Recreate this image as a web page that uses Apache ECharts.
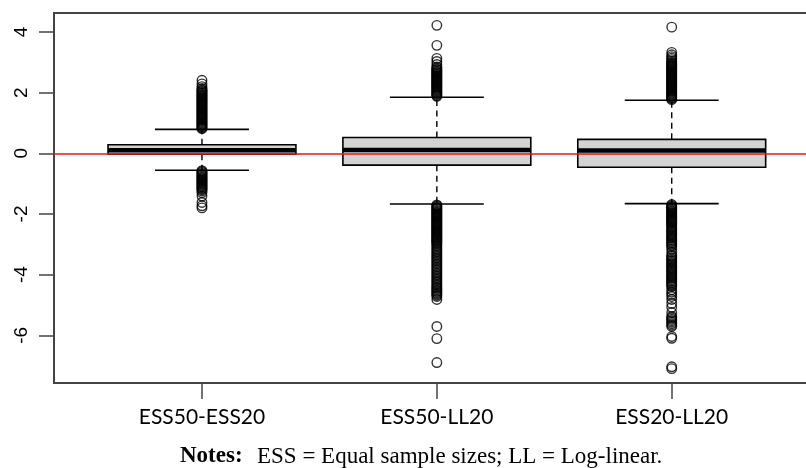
<!DOCTYPE html>
<html><head><meta charset="utf-8">
<script src="https://cdn.jsdelivr.net/npm/echarts@6/dist/echarts.min.js"></script>
<style>html,body{margin:0;padding:0;background:#fff}#c{width:806px;height:468px}</style>
</head><body><div id="c"></div>
<script>
const categories = ['ESS50-ESS20', 'ESS50-LL20', 'ESS20-LL20'];
const whiskerLow = [-0.56, -1.67, -1.66];
const q1 = [-0.03, -0.39, -0.46];
const median = [0.1, 0.11, 0.09];
const q3 = [0.28, 0.52, 0.46];
const whiskerHigh = [0.79, 1.85, 1.75];
const yTicks = [-6, -4, -2, 0, 2, 4];
const refLine = 0;

const out1 = [0.81, 0.84, 0.87, 0.9, 0.93, 0.96, 0.99, 1.02, 1.05, 1.08, 1.11, 1.14, 1.17, 1.2, 1.23, 1.26, 1.29, 1.32, 1.35, 1.38, 1.41, 1.44, 1.47, 1.5, 1.53, 1.56, 1.59, 1.62, 1.65, 1.68, 1.71, 1.74, 1.77, 1.8, 1.83, 1.86, 1.89, 1.92, 1.95, 1.98, 2.01, 2.04, 2.07, 2.1, 2.14, 2.2, 2.29, 2.41,
  -0.57, -0.6, -0.63, -0.66, -0.69, -0.72, -0.75, -0.78, -0.81, -0.84, -0.87, -0.9, -0.93, -0.96, -0.99, -1.02, -1.05, -1.08, -1.11, -1.14, -1.17, -1.2, -1.24, -1.3, -1.41, -1.62, -1.73, -1.8];
const out2 = [1.88, 1.91, 1.94, 1.97, 2.0, 2.03, 2.06, 2.09, 2.12, 2.15, 2.18, 2.21, 2.24, 2.27, 2.3, 2.33, 2.36, 2.39, 2.42, 2.45, 2.48, 2.51, 2.54, 2.57, 2.6, 2.63, 2.66, 2.69, 2.72, 2.75, 2.78, 2.82, 2.85, 2.93, 3.03, 3.13, 3.56, 4.22,
  -1.7, -1.73, -1.76, -1.79, -1.82, -1.85, -1.88, -1.91, -1.94, -1.97, -2.0, -2.03, -2.06, -2.09, -2.12, -2.15, -2.18, -2.21, -2.24, -2.27, -2.3, -2.33, -2.36, -2.39, -2.42, -2.45, -2.48, -2.51, -2.54, -2.57, -2.6, -2.63, -2.66, -2.69, -2.72, -2.75, -2.78, -2.81, -2.84, -2.87, -2.9, -2.93, -2.96, -3.0, -3.05, -3.1, -3.15, -3.2, -3.25, -3.3, -3.35, -3.4, -3.45, -3.5, -3.55, -3.6, -3.65, -3.7, -3.75, -3.8, -3.85, -3.9, -3.95, -4.0, -4.05, -4.1, -4.15, -4.2, -4.25, -4.3, -4.35, -4.4, -4.44, -4.48, -4.52, -4.56, -4.6, -4.64, -4.68, -4.72, -4.82, -5.71, -6.11, -6.9];
const out3 = [1.77, 1.8, 1.83, 1.86, 1.89, 1.92, 1.95, 1.98, 2.01, 2.04, 2.07, 2.1, 2.13, 2.16, 2.19, 2.22, 2.25, 2.28, 2.31, 2.34, 2.37, 2.4, 2.43, 2.46, 2.49, 2.52, 2.55, 2.58, 2.61, 2.64, 2.67, 2.7, 2.73, 2.76, 2.79, 2.82, 2.85, 2.88, 2.91, 2.94, 2.97, 3.0, 3.04, 3.09, 3.14, 3.19, 3.25, 3.33, 4.16,
  -1.69, -1.72, -1.75, -1.78, -1.81, -1.84, -1.87, -1.9, -1.93, -1.96, -1.99, -2.02, -2.05, -2.08, -2.11, -2.14, -2.17, -2.2, -2.23, -2.26, -2.29, -2.32, -2.36, -2.4, -2.44, -2.48, -2.52, -2.56, -2.6, -2.64, -2.68, -2.72, -2.76, -2.8, -2.84, -2.88, -2.92, -2.96, -3.0, -3.04, -3.08, -3.16, -3.26, -3.36, -3.4, -3.44, -3.48, -3.52, -3.56, -3.6, -3.64, -3.68, -3.72, -3.76, -3.8, -3.84, -3.88, -3.92, -3.96, -4.0, -4.04, -4.08, -4.12, -4.16, -4.2, -4.24, -4.28, -4.32, -4.36, -4.4, -4.5, -4.58, -4.65, -4.72, -4.82, -4.95, -5.08, -5.25, -5.38, -5.42, -5.47, -5.52, -5.57, -5.62, -5.67, -5.71, -6.04, -6.1, -7.04, -7.1];
const outliers = [out1, out2, out3];

const boxData = categories.map((c, i) => [i + 1, whiskerLow[i], q1[i], median[i], q3[i], whiskerHigh[i]]);
const outData = [];
outliers.forEach((arr, i) => arr.forEach(v => outData.push([i + 1, v])));

const chart = echarts.init(document.getElementById('c'), null, {renderer: 'canvas'});
chart.setOption({
  animation: false,
  backgroundColor: '#fff',
  grid: {left: 54, top: 13, width: 761, height: 370, containLabel: false, outerBoundsMode: 'none',
    show: true, borderColor: '#444', borderWidth: 2, backgroundColor: 'transparent'},
  xAxis: {
    type: 'value', min: 0.37, max: 3.61,
    splitLine: {show: false},
    axisLine: {show: true, onZero: false, lineStyle: {color: '#444', width: 2}},
    axisTick: {show: true, length: 16, customValues: [1, 2, 3], lineStyle: {color: '#444', width: 1.5}},
    axisLabel: {customValues: [1, 2, 3], formatter: v => categories[Math.round(v) - 1] || '', margin: 24,
      fontFamily: 'Lato', fontSize: 21, color: '#000'}
  },
  yAxis: {
    type: 'value', min: -7.574, max: 4.627,
    splitLine: {show: false},
    axisLine: {show: true, onZero: false, lineStyle: {color: '#444', width: 2}},
    axisTick: {show: true, length: 15, customValues: yTicks, lineStyle: {color: '#444', width: 1.5}},
    axisLabel: {customValues: yTicks, rotate: 90, margin: 23, fontFamily: 'Liberation Sans', fontSize: 19, color: '#000'}
  },
  series: [
    {
      type: 'custom', data: boxData, z: 2,
      encode: {x: 0, y: [1, 2, 3, 4, 5]},
      renderItem: function (params, api) {
        const x = api.value(0);
        const pLow = api.coord([x, api.value(1)]);
        const pQ1 = api.coord([x, api.value(2)]);
        const pMed = api.coord([x, api.value(3)]);
        const pQ3 = api.coord([x, api.value(4)]);
        const pHigh = api.coord([x, api.value(5)]);
        const bw = api.size([0.8, 0])[0];
        const cw = api.size([0.4, 0])[0];
        const cx = pMed[0];
        const dash = {stroke: '#000', lineWidth: 1.4, lineDash: [6, 4.5]};
        const solid = {stroke: '#000', lineWidth: 1.6};
        return {type: 'group', children: [
          {type: 'line', shape: {x1: cx, y1: pQ3[1], x2: cx, y2: pHigh[1]}, style: dash},
          {type: 'line', shape: {x1: cx, y1: pQ1[1], x2: cx, y2: pLow[1]}, style: dash},
          {type: 'line', shape: {x1: cx - cw / 2, y1: pHigh[1], x2: cx + cw / 2, y2: pHigh[1]}, style: solid},
          {type: 'line', shape: {x1: cx - cw / 2, y1: pLow[1], x2: cx + cw / 2, y2: pLow[1]}, style: solid},
          {type: 'rect', shape: {x: cx - bw / 2, y: pQ3[1], width: bw, height: pQ1[1] - pQ3[1]}, style: {fill: '#d3d3d3', stroke: '#000', lineWidth: 1.6}},
          {type: 'line', shape: {x1: cx - bw / 2, y1: pMed[1], x2: cx + bw / 2, y2: pMed[1]}, style: {stroke: '#000', lineWidth: 4.5}}
        ]};
      }
    },
    {
      type: 'scatter', data: outData, z: 3,
      symbol: 'circle', symbolSize: 9.5,
      itemStyle: {color: 'rgba(0,0,0,0)', borderColor: '#000', borderWidth: 1.4},
      markLine: {
        silent: true, symbol: ['none', 'none'], label: {show: false}, z: 5,
        lineStyle: {color: '#e0191c', width: 1.5, type: 'solid'},
        data: [{yAxis: refLine}]
      }
    }
  ],
  graphic: [
    {type: 'text', left: 180, top: 445, style: {text: 'Notes:', font: 'bold 23px "Liberation Serif"', fill: '#000'}},
    {type: 'text', left: 257, top: 445, style: {text: 'ESS = Equal sample sizes; LL = Log-linear.', font: '23px "Liberation Serif"', fill: '#000'}}
  ]
});
</script></body></html>
